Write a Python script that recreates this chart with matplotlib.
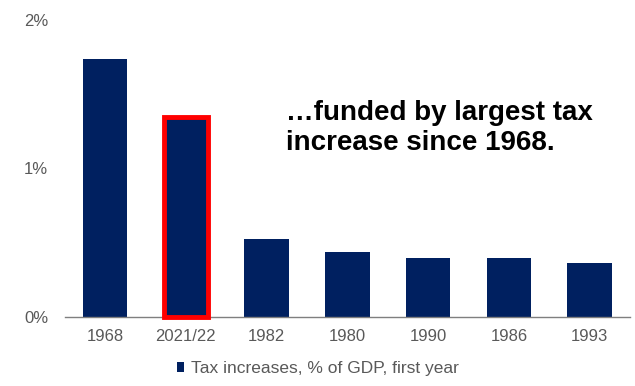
import matplotlib.pyplot as plt
from matplotlib.ticker import FuncFormatter

plt.rcParams['font.family'] = ['Liberation Sans', 'DejaVu Sans']

years = ['1968', '2021/22', '1982', '1980', '1990', '1986', '1993']
tax_increase = [1.74, 1.35, 0.525, 0.44, 0.40, 0.40, 0.36]
highlight = '2021/22'

navy = '#002060'
grey = '#595959'

fig = plt.figure(figsize=(6.35, 3.86), dpi=100)
ax = fig.add_axes([0.102, 0.179, 0.89, 0.769])

x = list(range(len(years)))
bars = ax.bar(x, tax_increase, width=0.55, color=navy,
              label='Tax increases, % of GDP, first year', zorder=2)
for bar, yr in zip(bars, years):
    if yr == highlight:
        bar.set_edgecolor('#ff0000')
        bar.set_linewidth(3.5)
        bar.set_zorder(4)
        bar.set_clip_on(False)

ax.set_xlim(-0.5, len(years) - 0.5)
ax.set_ylim(0, 2)
ax.set_yticks([0, 1, 2])
ax.yaxis.set_major_formatter(FuncFormatter(lambda v, p: f'{v:.0f}%'))
ax.set_xticks(x)
ax.set_xticklabels(years)
ax.tick_params(axis='both', length=0, labelsize=12, colors=grey)
ax.tick_params(axis='x', pad=9)
ax.tick_params(axis='y', pad=12)

for s in ['top', 'right', 'left']:
    ax.spines[s].set_visible(False)
ax.spines['bottom'].set_color('#7f7f7f')
ax.spines['bottom'].set_linewidth(1)

ax.text(2.24, 1.275, '…funded by largest tax\nincrease since 1968.',
        fontsize=20, fontweight='bold', color='black',
        linespacing=1.2, va='center', ha='left')

leg = fig.legend(loc='lower center', bbox_to_anchor=(0.5, -0.015), frameon=False,
                 fontsize=12.5, handlelength=0.45, handleheight=0.45, handletextpad=0.35)
for t in leg.get_texts():
    t.set_color(grey)

fig.savefig('out.png', dpi=100)
